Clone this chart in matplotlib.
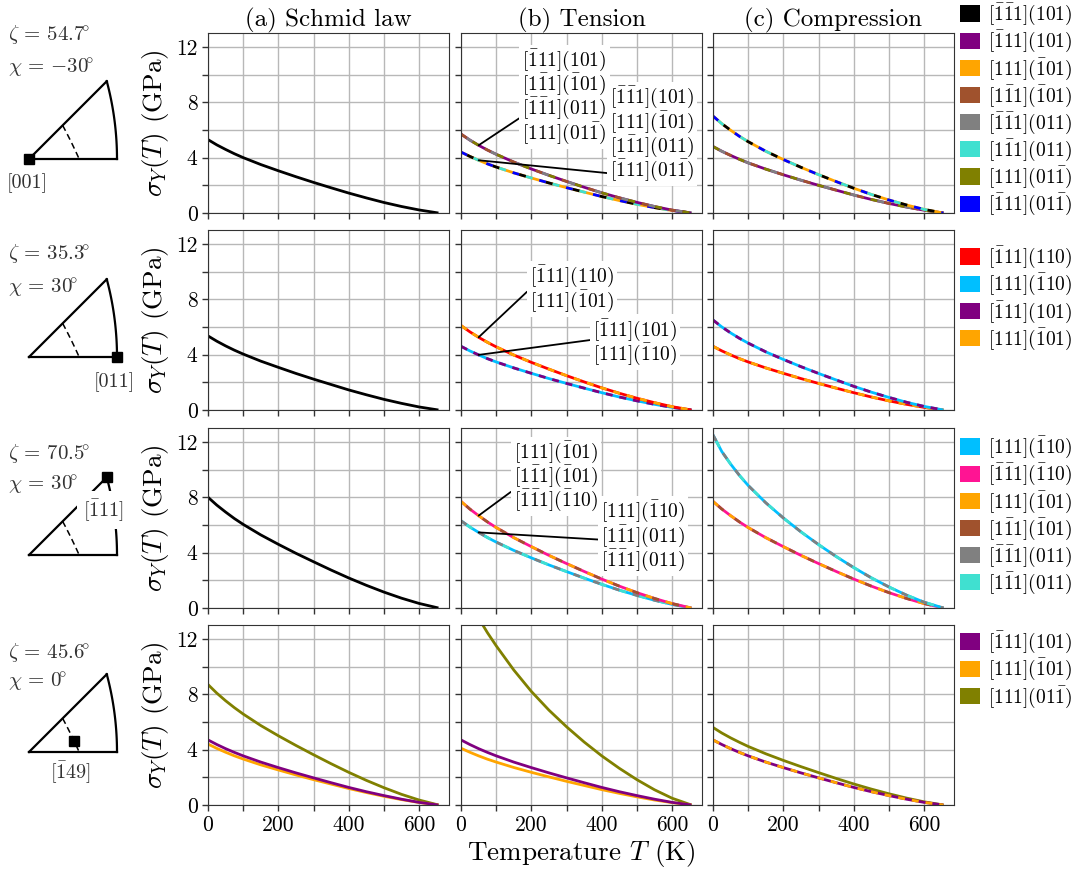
import numpy as np
import matplotlib.pyplot as plt
from matplotlib.patches import Patch

plt.rcParams['font.family'] = 'serif'
plt.rcParams['font.serif'] = ['cmr10']
plt.rcParams['mathtext.fontset'] = 'cm'
plt.rcParams['axes.formatter.use_mathtext'] = True
plt.rcParams['axes.unicode_minus'] = False

# temperature grid (K) shared by all curves
T_K = [0, 25, 50, 75, 100, 150, 200, 250, 300, 350, 400, 450, 500, 550, 600, 655]

# row 1: zeta = 54.7, chi = -30  (GPa)
schmid_r1 = [5.3, 4.92, 4.59, 4.28, 4.0, 3.5, 3.05, 2.62, 2.21, 1.82, 1.44, 1.09, 0.76, 0.47, 0.22, 0]
ten_hi_r1 = [5.7, 5.27, 4.89, 4.55, 4.24, 3.68, 3.18, 2.72, 2.28, 1.86, 1.46, 1.1, 0.77, 0.47, 0.21, 0]
ten_lo_r1 = [4.4, 4.09, 3.81, 3.55, 3.32, 2.9, 2.53, 2.17, 1.83, 1.51, 1.19, 0.9, 0.63, 0.39, 0.18, 0]
com_hi_r1 = [7.0, 6.45, 5.98, 5.54, 5.15, 4.46, 3.86, 3.3, 2.77, 2.27, 1.79, 1.34, 0.94, 0.58, 0.26, 0]
com_lo_r1 = [4.8, 4.46, 4.16, 3.88, 3.62, 3.17, 2.76, 2.37, 2.0, 1.65, 1.3, 0.98, 0.69, 0.43, 0.2, 0]

# row 2: zeta = 35.3, chi = 30
schmid_r2 = [5.35, 4.97, 4.63, 4.32, 4.04, 3.53, 3.08, 2.64, 2.23, 1.84, 1.45, 1.1, 0.77, 0.48, 0.22, 0]
ten_hi_r2 = [6.1, 5.65, 5.25, 4.89, 4.56, 3.97, 3.44, 2.95, 2.48, 2.03, 1.6, 1.21, 0.85, 0.53, 0.24, 0]
ten_lo_r2 = [4.6, 4.27, 3.98, 3.71, 3.47, 3.04, 2.65, 2.27, 1.92, 1.58, 1.25, 0.94, 0.66, 0.41, 0.19, 0]
com_hi_r2 = [6.5, 6.0, 5.57, 5.18, 4.83, 4.2, 3.65, 3.13, 2.64, 2.17, 1.71, 1.29, 0.91, 0.56, 0.26, 0]
com_lo_r2 = [4.6, 4.27, 3.98, 3.71, 3.47, 3.04, 2.65, 2.27, 1.92, 1.58, 1.25, 0.94, 0.66, 0.41, 0.19, 0]

# row 3: zeta = 70.5, chi = 30
schmid_r3 = [8.0, 7.43, 6.93, 6.46, 6.04, 5.28, 4.6, 3.95, 3.34, 2.74, 2.17, 1.64, 1.15, 0.71, 0.33, 0]
ten_hi_r3 = [7.7, 7.15, 6.67, 6.22, 5.81, 5.08, 4.43, 3.8, 3.21, 2.64, 2.09, 1.58, 1.11, 0.69, 0.32, 0]
ten_lo_r3 = [6.3, 5.85, 5.46, 5.09, 4.76, 4.16, 3.62, 3.11, 2.63, 2.16, 1.71, 1.29, 0.91, 0.56, 0.26, 0]
com_hi_r3 = [12.5, 11.3, 10.4, 9.58, 8.85, 7.6, 6.5, 5.5, 4.58, 3.72, 2.92, 2.18, 1.52, 0.93, 0.42, 0]
com_lo_r3 = [7.7, 7.15, 6.67, 6.22, 5.81, 5.08, 4.43, 3.8, 3.21, 2.64, 2.09, 1.58, 1.11, 0.69, 0.32, 0]

# row 4: zeta = 45.6, chi = 0
sch_olive_r4 = [8.7, 8.08, 7.53, 7.03, 6.57, 5.74, 5.0, 4.3, 3.63, 2.98, 2.36, 1.78, 1.25, 0.77, 0.36, 0]
sch_purple_r4 = [4.7, 4.37, 4.07, 3.8, 3.55, 3.1, 2.7, 2.32, 1.96, 1.61, 1.27, 0.96, 0.68, 0.42, 0.19, 0]
sch_orange_r4 = [4.4, 4.09, 3.81, 3.55, 3.32, 2.9, 2.53, 2.17, 1.83, 1.51, 1.19, 0.9, 0.63, 0.39, 0.18, 0]
ten_olive_r4 = [15.4, 14.4, 13.5, 12.45, 11.5, 9.75, 8.2, 6.85, 5.65, 4.55, 3.55, 2.65, 1.83, 1.1, 0.49, 0]
ten_purple_r4 = [4.7, 4.37, 4.07, 3.8, 3.55, 3.1, 2.7, 2.32, 1.96, 1.61, 1.27, 0.96, 0.68, 0.42, 0.19, 0]
ten_orange_r4 = [4.1, 3.81, 3.55, 3.31, 3.1, 2.71, 2.36, 2.03, 1.71, 1.41, 1.11, 0.84, 0.59, 0.36, 0.17, 0]
com_olive_r4 = [5.6, 5.2, 4.85, 4.53, 4.23, 3.7, 3.22, 2.77, 2.34, 1.92, 1.52, 1.15, 0.81, 0.5, 0.23, 0]
com_purple_r4 = [4.7, 4.37, 4.07, 3.8, 3.55, 3.1, 2.7, 2.32, 1.96, 1.61, 1.27, 0.96, 0.68, 0.42, 0.19, 0]

# slip system labels
S_bb1_101 = r'$[\bar{1}\bar{1}1](101)$'
S_b11_101 = r'$[\bar{1}11](101)$'
S_111_b101 = r'$[111](\bar{1}01)$'
S_1b1_b101 = r'$[1\bar{1}1](\bar{1}01)$'
S_bb1_011 = r'$[\bar{1}\bar{1}1](011)$'
S_1b1_011 = r'$[1\bar{1}1](011)$'
S_111_01b = r'$[111](01\bar{1})$'
S_b11_01b = r'$[\bar{1}11](01\bar{1})$'
S_b11_110 = r'$[\bar{1}11](110)$'
S_111_b110 = r'$[111](\bar{1}10)$'
S_bb1_b110 = r'$[\bar{1}\bar{1}1](\bar{1}10)$'

legend_r1 = [('black', S_bb1_101), ('purple', S_b11_101), ('orange', S_111_b101), ('sienna', S_1b1_b101),
             ('grey', S_bb1_011), ('turquoise', S_1b1_011), ('olive', S_111_01b), ('blue', S_b11_01b)]
legend_r2 = [('red', S_b11_110), ('deepskyblue', S_111_b110), ('purple', S_b11_101), ('orange', S_111_b101)]
legend_r3 = [('deepskyblue', S_111_b110), ('deeppink', S_bb1_b110), ('orange', S_111_b101),
             ('sienna', S_1b1_b101), ('grey', S_bb1_011), ('turquoise', S_1b1_011)]
legend_r4 = [('purple', S_b11_101), ('orange', S_111_b101), ('olive', S_111_01b)]

zeta_txt = [r'$\zeta\,=\,54.7\!^{\circ}$', r'$\zeta\,=\,35.3\!^{\circ}$',
            r'$\zeta\,=\,70.5\!^{\circ}$', r'$\zeta\,=\,45.6\!^{\circ}$']
chi_txt = [r'$\chi\,=\,{-}30\!^{\circ}$', r'$\chi\,=\,30\!^{\circ}$', r'$\chi\,=\,30\!^{\circ}$', r'$\chi\,=\,0\!^{\circ}$']
axis_dirs = [(0, 0, 1), (0, 1, 1), (1, 1, 1), (1, 4, 9)]
axis_txt = ['[001]', '[011]', r'$[\bar{1}11]$', r'$[\bar{1}49]$']

W, H = 1074, 871
fig = plt.figure(figsize=(W / 100, H / 100), dpi=100)

# overlay in pixel coordinates for the stereographic triangles
ov = fig.add_axes([0, 0, 1, 1])
ov.set_xlim(0, W)
ov.set_ylim(H, 0)
ov.axis('off')

col_x = [208, 461, 713]
row_y = [33, 230, 428, 625]
AW, AH = 241, 180

axes = []
for r in range(4):
    row = []
    for c in range(3):
        row.append(fig.add_axes([col_x[c] / W, 1 - (row_y[r] + AH) / H, AW / W, AH / H]))
    axes.append(row)


def draw_group(ax, vals, colors, lw=2.0, d=2.5):
    n = len(colors)
    ax.plot(T_K, vals, color=colors[0], lw=lw, solid_capstyle='butt')
    period = d * n
    for i in range(1, n):
        off = (period - d * (i - 1)) % period
        ax.plot(T_K, vals, color=colors[i], lw=lw, linestyle=(off, (d, period - d)))


# row 1
draw_group(axes[0][0], schmid_r1, ['black'])
draw_group(axes[0][1], ten_lo_r1, ['orange', 'blue', 'black', 'turquoise'])
draw_group(axes[0][1], ten_hi_r1, ['purple', 'sienna', 'grey', 'olive'])
draw_group(axes[0][2], com_lo_r1, ['purple', 'olive', 'grey', 'sienna'])
draw_group(axes[0][2], com_hi_r1, ['orange', 'blue', 'turquoise', 'black'])
# row 2
draw_group(axes[1][0], schmid_r2, ['black'])
draw_group(axes[1][1], ten_lo_r2, ['deepskyblue', 'purple'])
draw_group(axes[1][1], ten_hi_r2, ['red', 'orange'])
draw_group(axes[1][2], com_lo_r2, ['red', 'orange'])
draw_group(axes[1][2], com_hi_r2, ['deepskyblue', 'purple'])
# row 3
draw_group(axes[2][0], schmid_r3, ['black'])
draw_group(axes[2][1], ten_lo_r3, ['deepskyblue', 'grey', 'turquoise'])
draw_group(axes[2][1], ten_hi_r3, ['deeppink', 'orange', 'sienna'])
draw_group(axes[2][2], com_lo_r3, ['deeppink', 'orange', 'sienna'])
draw_group(axes[2][2], com_hi_r3, ['deepskyblue', 'grey', 'turquoise'])
# row 4
draw_group(axes[3][0], sch_olive_r4, ['olive'])
draw_group(axes[3][0], sch_orange_r4, ['orange'])
draw_group(axes[3][0], sch_purple_r4, ['purple'])
draw_group(axes[3][1], ten_olive_r4, ['olive'])
draw_group(axes[3][1], ten_orange_r4, ['orange'])
draw_group(axes[3][1], ten_purple_r4, ['purple'])
draw_group(axes[3][2], com_olive_r4, ['olive'])
draw_group(axes[3][2], com_purple_r4, ['purple', 'orange'])

# annotations in the tension column
def label(ax, txt, curve, xt, yt, rely):
    ax.annotate('\n'.join(txt), xy=(T_K[2], curve[2]), xytext=(xt, yt), ha='left', va='center',
                fontsize=14, linespacing=0.95,
                bbox=dict(boxstyle='square,pad=0.15', fc='white', ec='none'),
                arrowprops=dict(arrowstyle='-', color='black', lw=1.3, relpos=(0, rely),
                                shrinkA=0, shrinkB=0))

label(axes[0][1], [S_b11_101, S_1b1_b101, S_bb1_011, S_111_01b], ten_hi_r1, 174, 8.4, 0.3)
label(axes[0][1], [S_bb1_101, S_111_b101, S_1b1_011, S_b11_01b], ten_lo_r1, 423, 5.7, 0.1)
label(axes[1][1], [S_b11_110, S_111_b101], ten_hi_r2, 196, 8.74, 0.5)
label(axes[1][1], [S_b11_101, S_111_b110], ten_lo_r2, 375, 4.9, 0.55)
label(axes[2][1], [S_111_b101, S_1b1_b101, S_bb1_b110], ten_hi_r3, 150, 9.5, 0.32)
label(axes[2][1], [S_111_b110, S_1b1_011, S_bb1_011], ten_lo_r3, 398, 5.2, 0.45)

titles = ['(a) Schmid law', '(b) Tension', '(c) Compression']
for r in range(4):
    for c in range(3):
        ax = axes[r][c]
        ax.set_xlim(0, 685)
        ax.set_ylim(0, 13)
        ax.set_xticks(range(0, 700, 100))
        ax.set_xticklabels([str(t) if t % 200 == 0 else '' for t in range(0, 700, 100)])
        ax.set_yticks(range(0, 13, 2))
        ax.set_yticklabels([str(v) if v % 4 == 0 else '' for v in range(0, 13, 2)])
        ax.tick_params(labelsize=15.5, length=4, width=1, colors='#333333', labelcolor='black')
        ax.grid(True, color='#b8b8b8', lw=1.0)
        ax.set_axisbelow(True)
        for s in ax.spines.values():
            s.set_color('#333333')
        if r < 3:
            ax.tick_params(labelbottom=False)
        if c > 0:
            ax.tick_params(labelleft=False)
        else:
            ax.set_ylabel(r'$\sigma_Y(T)$ (GPa)', fontsize=19.5, labelpad=4)
        if r == 0:
            ax.set_title(titles[c], fontsize=18, pad=3)
axes[3][1].set_xlabel('Temperature $T$ (K)', fontsize=19.5, labelpad=2)

# legends to the right of each row
leg_first_y = [15, 258, 448, 643]
for r, items in enumerate([legend_r1, legend_r2, legend_r3, legend_r4]):
    handles = [Patch(facecolor=col, edgecolor='none', label=lab) for col, lab in items]
    fig.legend(handles=handles, loc='upper left', bbox_to_anchor=(960 / W, 1 - (leg_first_y[r] - 13) / H),
               borderaxespad=0, borderpad=0, frameon=False, fontsize=14, handlelength=1.05,
               handleheight=0.9, handletextpad=0.4, labelspacing=0.1)

# stereographic triangles
def proj(v):
    v = np.abs(np.asarray(v, float))
    v = v / np.linalg.norm(v)
    return v[1] / (1 + v[2]), v[0] / (1 + v[2])


def arc(a, b, n=40):
    a = np.asarray(a, float) / np.linalg.norm(a)
    b = np.asarray(b, float) / np.linalg.norm(b)
    pts = [proj((1 - t) * a + t * b) for t in np.linspace(0, 1, n)]
    return np.array(pts)


scale = 88 / proj((0, 1, 1))[0]
tri_x0 = 29
tri_y0 = [159, 357, 555, 752]
txt_pos = [(27, 183), (114, 382), (103, 510), (70, 772)]
zeta_y = [35, 253, 453, 652]
chi_y = [68, 288, 485, 682]
for r in range(4):
    x0, y0 = tri_x0, tri_y0[r]
    for a, b, ls in [((0, 0, 1), (0, 1, 1), '-'), ((0, 0, 1), (1, 1, 1), '-'),
                     ((0, 1, 1), (1, 1, 1), '-'), ((1, 1, 3), (0, 1, 2), '--')]:
        p = arc(a, b)
        ov.plot(x0 + scale * p[:, 0], y0 - scale * p[:, 1], color='black', lw=1.6 if ls == '-' else 1.1,
                linestyle=ls if ls == '-' else (0, (4, 2.5)))
    mx, my = proj(axis_dirs[r])
    ov.plot(x0 + scale * mx, y0 - scale * my, marker='s', color='black', ms=7, zorder=5)
    tx, ty = txt_pos[r]
    kw = dict(bbox=dict(boxstyle='square,pad=0.3', fc='white', ec='none')) if r == 2 else {}
    ov.text(tx, ty, axis_txt[r], fontsize=14.5, ha='center', va='center', color='#333333', zorder=4, **kw)
    ov.text(8, zeta_y[r], zeta_txt[r], fontsize=15, ha='left', va='center', color='#333333')
    ov.text(8, chi_y[r], chi_txt[r], fontsize=15, ha='left', va='center', color='#333333')

fig.savefig('out.png', dpi=100)
